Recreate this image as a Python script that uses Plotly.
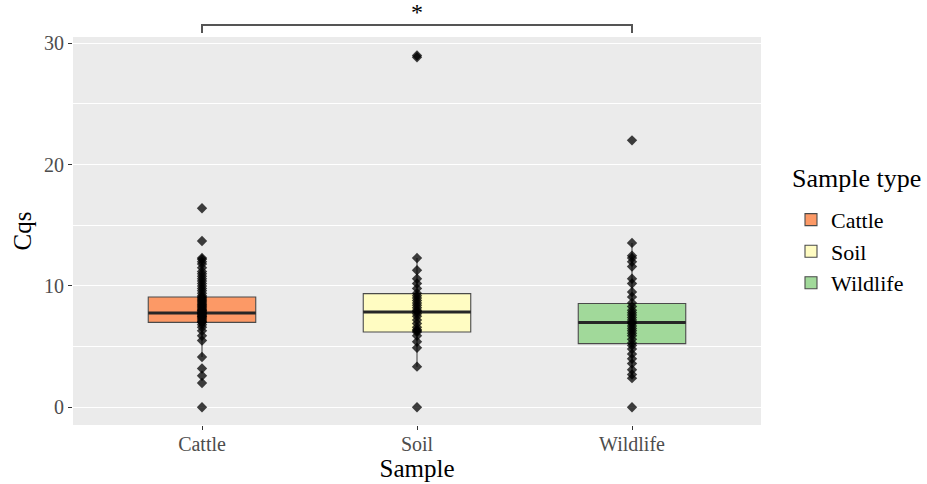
import plotly.graph_objects as go

categories = ["Cattle", "Soil", "Wildlife"]
colors = ["#FC9966", "#FFFCC2", "#A1D99A"]

cattle_vals = [0, 2.0, 2.6, 3.2, 4.15, 5.5, 5.9, 6.3, 6.6, 6.8, 7.0, 7.0, 7.1, 7.2, 7.3,
               7.4, 7.5, 7.5, 7.6, 7.7, 7.7, 7.8, 7.8, 7.9, 8.0, 8.0, 8.1, 8.2, 8.3,
               8.4, 8.5, 8.6, 8.7, 8.8, 8.9, 9.0, 9.1, 9.2, 9.4, 9.6, 9.8, 10.0, 10.2,
               10.4, 10.6, 10.8, 11.0, 11.2, 11.5, 11.8, 12.0, 12.2, 12.3, 13.7, 16.4]
soil_vals = [0, 3.35, 4.9, 5.4, 5.9, 6.2, 6.3, 6.4, 6.6, 6.9, 7.2, 7.5, 7.7, 7.9, 8.0,
             8.2, 8.4, 8.6, 8.8, 9.0, 9.2, 9.4, 9.8, 10.2, 10.6, 11.3, 12.3, 28.85, 29.0]
wildlife_vals = [0, 2.4, 2.7, 3.1, 3.6, 4.0, 4.4, 4.8, 5.1, 5.3, 5.6, 5.9, 6.1, 6.3,
                 6.5, 6.7, 6.9, 7.0, 7.2, 7.4, 7.6, 7.8, 8.0, 8.3, 8.6, 9.1, 9.5,
                 10.2, 10.6, 11.6, 12.0, 12.3, 12.5, 13.55, 22.0]

q1 = [7.0, 6.2, 5.25]
median = [7.77, 7.86, 6.98]
q3 = [9.09, 9.37, 8.55]
lower_whisker = [4.15, 3.35, 2.4]
upper_whisker = [12.3, 12.3, 13.55]

values = [cattle_vals, soil_vals, wildlife_vals]
positions = [1, 2, 3]
box_width = 0.5

SERIF = "Liberation Serif, Times New Roman, serif"

fig = go.Figure()

for i, cat in enumerate(categories):
    fig.add_trace(go.Box(
        x=[positions[i]], q1=[q1[i]], median=[median[i]], q3=[q3[i]],
        lowerfence=[lower_whisker[i]], upperfence=[upper_whisker[i]],
        name=cat, width=box_width, fillcolor=colors[i],
        line=dict(color="#4a4a4a", width=1.1), whiskerwidth=0,
        boxpoints=False, showlegend=True, hoverinfo="skip",
    ))
    fig.add_trace(go.Scatter(
        x=[positions[i] - box_width / 2, positions[i] + box_width / 2],
        y=[median[i], median[i]], mode="lines",
        line=dict(color="#262626", width=3), showlegend=False, hoverinfo="skip",
    ))

for i, cat in enumerate(categories):
    fig.add_trace(go.Scatter(
        x=[positions[i]] * len(values[i]), y=values[i], mode="markers",
        marker=dict(symbol="diamond", size=8, color="rgba(0,0,0,0.75)", line=dict(width=0)),
        showlegend=False, hoverinfo="skip",
    ))

# significance bracket between Cattle and Wildlife
fig.add_shape(type="path", xref="x", yref="paper",
              path=f"M {positions[0]},1.0103 L {positions[0]},1.0309 L {positions[2]},1.0309 L {positions[2]},1.0103",
              line=dict(color="#555555", width=2))
fig.add_annotation(x=positions[1], y=1.065, xref="x", yref="paper", text="*",
                   showarrow=False, font=dict(family=SERIF, size=24, color="black"),
                   yanchor="middle")

# legend title as separate text
fig.add_annotation(x=1.042, y=0.636, xref="paper", yref="paper", text="Sample type",
                   showarrow=False, xanchor="left", yanchor="middle",
                   font=dict(family=SERIF, size=26, color="black"))

fig.update_layout(
    width=927, height=484,
    margin=dict(l=73, r=166, t=37, b=59, autoexpand=False),
    plot_bgcolor="#EBEBEB", paper_bgcolor="white",
    boxmode="overlay",
    font=dict(family=SERIF, color="#4D4D4D"),
    legend=dict(
        font=dict(family=SERIF, size=22, color="black"),
        x=1.0436, xanchor="left", y=0.583, yanchor="top",
        bgcolor="rgba(255,255,255,0)", tracegroupgap=0, itemwidth=30,
    ),
    xaxis=dict(
        range=[0.4, 3.6], tickvals=positions, ticktext=categories,
        showgrid=False, zeroline=False,
        ticks="outside", ticklen=4, tickcolor="#333333", ticklabelstandoff=-3,
        tickfont=dict(family=SERIF, size=20, color="#4D4D4D"),
        title=dict(text="Sample", font=dict(family=SERIF, size=25, color="black"), standoff=0),
        showline=False,
    ),
    yaxis=dict(
        range=[-1.46, 30.52], tickvals=[0, 10, 20, 30],
        showgrid=True, gridcolor="white", gridwidth=1.1, zeroline=False,
        minor=dict(tickvals=[5, 15, 25], showgrid=True, gridcolor="white", gridwidth=0.55),
        ticks="outside", ticklen=4, tickcolor="#333333",
        tickfont=dict(family=SERIF, size=20, color="#4D4D4D"),
        title=dict(text="Cqs", font=dict(family=SERIF, size=25, color="black"), standoff=5),
        showline=False,
    ),
)

fig.write_html("out.html")
